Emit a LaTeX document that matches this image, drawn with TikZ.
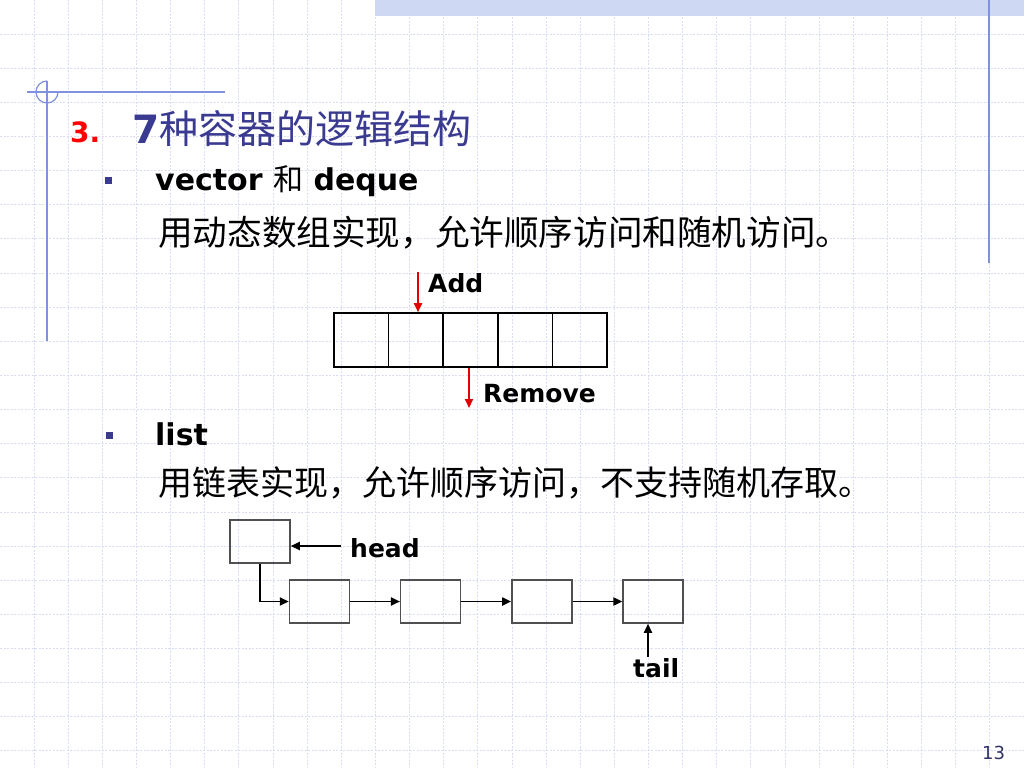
\documentclass[tikz,border=0pt]{standalone}
\usepackage{fontspec}
\setmainfont{DejaVu Sans}
\newfontfamily\cjk{Noto Sans CJK SC}
\usetikzlibrary{arrows.meta,positioning}
\definecolor{gridc}{RGB}{218,222,244}
\definecolor{deco}{RGB}{128,145,222}
\definecolor{band}{RGB}{206,216,243}
\definecolor{titleblue}{RGB}{58,58,145}
\definecolor{boxgray}{RGB}{80,80,80}
\definecolor{pgnum}{RGB}{51,51,102}
\newcommand{\fs}[1]{\fontsize{#1}{#1}\selectfont}

\begin{document}
\begin{tikzpicture}[x=1pt,y=-1pt,
  cell/.style={draw,line width=1.6pt,minimum width=54.6pt,minimum height=54pt,inner sep=0pt},
  lbox/.style={draw=boxgray,line width=1.5pt,minimum width=60pt,minimum height=43pt,inner sep=0pt},
  txt/.style={anchor=base west,inner sep=0pt},
  bullet/.style={fill=titleblue,minimum size=7pt,inner sep=0pt},
  redarr/.style={red!90!black,line width=1.8pt,-{Triangle[length=9pt,width=8pt]}},
  blkarr/.style={line width=1.9pt,-{Triangle[length=9pt,width=8pt]}}]

\useasboundingbox (0,0) rectangle (1024,768);
\fill[white] (0,0) rectangle (1024,768);

% background grid
\foreach \i in {1,...,29}
{
\draw[gridc,dash pattern=on 2pt off 1.5pt,line width=0.9pt]
  (34.133*\i,0) -- (34.133*\i,768);
}
\foreach \j in {1,...,22}
{
\draw[gridc,dash pattern=on 2pt off 1.5pt,line width=0.9pt]
  (0,34.133*\j) -- (1024,34.133*\j);
}
\fill[band] (375,0) rectangle (1024,16);
\draw[deco,line width=1.2pt] (27,92) -- (225,92);
\draw[deco,line width=1.2pt] (47,81) -- (47,341);
\draw[deco,line width=1.2pt] (47,81) arc[start angle=270,end angle=0,radius=11];
\draw[deco,line width=1.2pt] (989,0) -- (989,263);

% text
\node[txt,text=red,font=\fs{28}\bfseries] (num) at (70,142) {3.};
\node[txt,text=titleblue] (title) at (132,143) {\fs{39}\textbf{7}\cjk 种容器的逻辑结构};

\node[bullet] (bul1) at (108.5,180.5) {};
\node[txt,font=\fs{30}\bfseries] (vec) at (155,190) {vector {\cjk\mdseries 和} deque};
\node[txt] (vecdesc) at (158,245) {\cjk\fs{34.6}用动态数组实现，允许顺序访问和随机访问。};

\node[bullet] (bul2) at (109,435.5) {};
\node[txt,font=\fs{30}\bfseries] (lst) at (155,445) {list};
\node[txt] (lstdesc) at (158,495) {\cjk\fs{34}用链表实现，允许顺序访问，不支持随机存取。};

% array
\foreach \i in {1,...,5}
{
\node[cell] (c\i) at (306.7+54.6*\i,340) {};
}
\coordinate (addp) at (418,272);
\draw[redarr] (addp) -- (addp |- c2.north);
\node[txt,font=\fs{25}\bfseries] (add) at (428,292) {Add};
\coordinate (remp) at (469,408);
\draw[redarr] (remp |- c3.south) -- (remp);
\node[txt,font=\fs{25}\bfseries] (rem) at (483,402) {Remove};

% linked list
\node[lbox] (hd) at (260,541.5) {};
\foreach \i in {1,...,4}
{
\node[lbox] (n\i) at (208.3+111.2*\i,601.5) {};
}
\coordinate (hp) at (341,546);
\draw[blkarr] (hp) -- (hp -| hd.east);
\node[txt,font=\fs{25}\bfseries] (hdtxt) at (350,557) {head};
\draw[blkarr] (hd.south) |- (n1.west);
\foreach \i/\j in {1/2,2/3,3/4}
  \draw[blkarr] (n\i.east) -- (n\j.west);
\coordinate (tp) at (648,657);
\draw[blkarr] (tp) -- (tp |- n4.south);
\node[txt,font=\fs{25}\bfseries] (tltxt) at (633,677) {tail};

\node[txt,text=pgnum,font=\fs{18}] (pg) at (982,759) {13};

\end{tikzpicture}
\end{document}
